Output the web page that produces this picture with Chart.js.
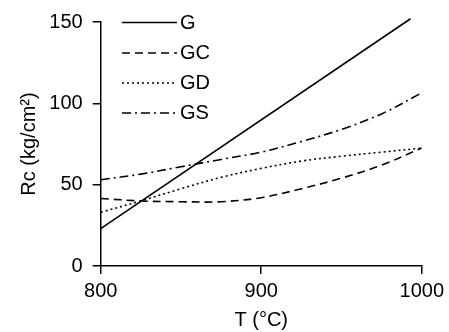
<!DOCTYPE html>
<html>
<head>
<meta charset="utf-8">
<title>Rc vs T</title>
<script src="https://cdn.jsdelivr.net/npm/chart.js@4/dist/chart.umd.min.js"></script>
<style>
  html, body { margin: 0; padding: 0; background: #fff; }
  #wrap { width: 449px; height: 332px; }
</style>
</head>
<body>
<div id="wrap"><canvas id="rcChart" width="449" height="332"></canvas></div>
<script>
// Data
const temps = [800, 825, 850, 875, 900, 925, 950, 975, 1000];
const gTemps = [800, 993];
const gValues = [23, 152];
const gcValues = [41.5, 40, 39.5, 39.5, 42, 47.5, 54, 62, 72.5];
const gdValues = [33, 40, 47.5, 54.5, 60, 64.5, 67.5, 70, 72.5];
const gsValues = [53, 56.5, 61, 65.5, 70, 76.5, 84, 93.5, 106.5];
const xTicks = [800, 900, 1000];
const yTicks = [0, 50, 100, 150];

const FONT = '"Liberation Sans", Arial, Helvetica, sans-serif';

function toPoints(xs, ys) {
  return xs.map((x, i) => ({ x: x, y: ys[i] }));
}

// Legend drawn inside the plot area, top left
const insideLegend = {
  id: 'insideLegend',
  afterDraw(chart) {
    const ctx = chart.ctx;
    const rows = [22.5, 53, 83, 113];
    ctx.save();
    ctx.font = '20px ' + FONT;
    ctx.textBaseline = 'middle';
    ctx.fillStyle = '#000';
    chart.data.datasets.forEach((ds, i) => {
      const y = rows[i];
      ctx.beginPath();
      ctx.setLineDash(ds.borderDash || []);
      ctx.lineWidth = ds.borderWidth;
      ctx.strokeStyle = ds.borderColor;
      ctx.moveTo(122, y);
      ctx.lineTo(177, y);
      ctx.stroke();
      ctx.setLineDash([]);
      ctx.fillText(ds.label, 180, y + 0.5);
    });
    ctx.restore();
  }
};

const ctx = document.getElementById('rcChart').getContext('2d');

const common = {
  borderColor: '#000',
  borderWidth: 1.6,
  pointRadius: 0,
  fill: false,
  tension: 0.35
};

new Chart(ctx, {
  type: 'line',
  data: {
    datasets: [
      Object.assign({}, common, { label: 'G', data: toPoints(gTemps, gValues), tension: 0, clip: false }),
      Object.assign({}, common, { label: 'GC', data: toPoints(temps, gcValues), borderDash: [8, 5] }),
      Object.assign({}, common, { label: 'GD', data: toPoints(temps, gdValues), borderDash: [2, 3] }),
      Object.assign({}, common, { label: 'GS', data: toPoints(temps, gsValues), borderDash: [9, 4, 2, 4] })
    ]
  },
  options: {
    responsive: false,
    animation: false,
    events: [],
    layout: { padding: { top: 22, right: 26, bottom: 0, left: 0 } },
    plugins: {
      legend: { display: false },
      tooltip: { enabled: false }
    },
    scales: {
      x: {
        type: 'linear',
        min: 800,
        max: 1000,
        afterBuildTicks(scale) {
          scale.ticks = xTicks.map(v => ({ value: v }));
        },
        afterFit(scale) {
          scale.height = 66;
        },
        grid: { drawOnChartArea: false, drawTicks: true, tickLength: 8, color: '#000', lineWidth: 1.5 },
        border: { display: true, color: '#000', width: 1.5 },
        ticks: {
          color: '#000',
          font: { family: FONT, size: 20 },
          padding: 5,
          maxRotation: 0,
          callback: v => String(v)
        },
        title: {
          display: true,
          text: 'T (°C)',
          color: '#000',
          font: { family: FONT, size: 20, lineHeight: 1.2 },
          padding: { top: 0, bottom: 0 }
        }
      },
      y: {
        min: 0,
        max: 150,
        afterBuildTicks(scale) {
          scale.ticks = yTicks.map(v => ({ value: v }));
        },
        afterFit(scale) {
          scale.width = 100.7;
        },
        grid: { drawOnChartArea: false, drawTicks: true, tickLength: 8, color: '#000', lineWidth: 1.5 },
        border: { display: true, color: '#000', width: 1.5 },
        ticks: { color: '#000', font: { family: FONT, size: 20 }, padding: 10, callback: v => String(v) },
        title: {
          display: true,
          text: 'Rc (kg/cm²)',
          color: '#000',
          font: { family: FONT, size: 20, lineHeight: 1.2 },
          padding: { top: 17, bottom: 0 }
        }
      }
    }
  },
  plugins: [insideLegend]
});
</script>
</body>
</html>
